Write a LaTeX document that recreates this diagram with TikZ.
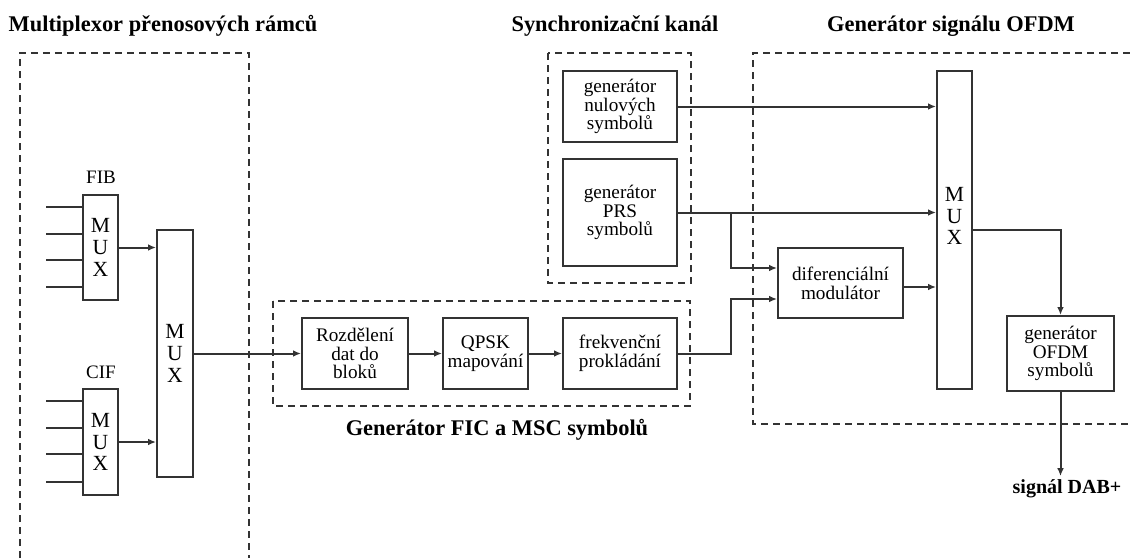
\documentclass[tikz,border=0pt]{standalone}
\usepackage{fontspec}
\setmainfont{Liberation Serif}
\usetikzlibrary{arrows.meta}

\begin{document}
\begin{tikzpicture}[x=0.5pt,y=-0.5pt,line width=1pt,
    >={Latex[length=4pt,width=3.4pt]},
    blok/.style={draw=black!80,align=center,inner sep=0pt,
      font=\fontsize{9.6}{9.4}\selectfont},
    mux/.style={draw=black!80,align=center,inner sep=0pt,minimum width=17.5pt,
      font=\fontsize{10.8}{10.8}\selectfont},
    titul/.style={anchor=base,font=\fontsize{11.2}{13}\selectfont\bfseries},
    ramec/.style={draw=black!80,line width=0.9pt,dash pattern=on 3.6pt off 2.4pt}]

  \useasboundingbox (0,0) rectangle (1130,558);

  \draw[ramec] (20,558) -- (20,53) -- (249,53) -- (249,558);
  \draw[ramec] (273,301) rectangle (690,406);
  \draw[ramec] (548,53) rectangle (691,283);
  \draw[ramec] (1130,53) -- (753,53) -- (753,424) -- (1130,424);

  \node[titul] (t1) at (163,31)  {Multiplexor přenosových rámců};
  \node[titul] (t2) at (615,31)  {Synchronizační kanál};
  \node[titul] (t3) at (951,31)  {Generátor signálu OFDM};
  \node[titul] (t4) at (497,435) {Generátor FIC a MSC symbolů};

  \begin{scope}[every node/.style={mux}]
    \node (fib)  at (100.5,247.5) [minimum height=52.5pt] {M\\U\\X};
    \node (cif)  at (100.5,442)   [minimum height=53pt]   {M\\U\\X};
    \node (mux)  at (175,353.5)   [minimum height=123.5pt,minimum width=18pt] {M\\U\\X};
    \node (rmux) at (954.5,230)   [minimum height=159pt,
      label={[mux,draw=none,yshift=7pt]center:M\\U\\X}] {};
  \end{scope}

  \begin{scope}[every node/.style={anchor=base,font=\fontsize{9.5}{11}\selectfont}]
    \node (lfib) at (101,183) {FIB};
    \node (lcif) at (101,378) {CIF};
  \end{scope}

  \begin{scope}[every node/.style={blok}]
    \node (rozd) at (355,353.5)    [minimum width=53pt,minimum height=35.5pt] {Rozdělení\\dat do\\bloků};
    \node (qpsk) at (485.5,353.5)  [minimum width=42.5pt,minimum height=35.5pt] {QPSK\\mapování};
    \node (frek) at (620,353.5)    [minimum width=57pt,minimum height=35.5pt] {frekvenční\\prokládání};
    \node (nul)  at (620,106.5)    [minimum width=57pt,minimum height=35.5pt] {generátor\\nulových\\symbolů};
    \node (prs)  at (620,212.5)    [minimum width=57pt,minimum height=53.5pt] {generátor\\PRS\\symbolů};
    \node (dif)  at (840.5,283)    [minimum width=62.5pt,minimum height=35pt] {diferenciální\\modulátor};
    \node (ofdm) at (1060.5,353.5) [minimum width=53.5pt,minimum height=37.5pt] {generátor\\OFDM\\symbolů};
  \end{scope}

  \node[anchor=base,inner sep=1pt,font=\fontsize{10}{12}\selectfont\bfseries] (dab) at (1067,493) {signál DAB+};

  \begin{scope}[draw=black!80]
    \foreach \y/\n in {207/a,234/b,260/c,287/d} {
      \coordinate (f\n) at (46,\y);
      \draw (f\n) -- (f\n -| fib.west);
    }
    \foreach \y/\n in {401/a,428/b,454/c,482/d} {
      \coordinate (c\n) at (46,\y);
      \draw (c\n) -- (c\n -| cif.west);
    }
    \coordinate (split) at (731,212.5);

    \draw[->] (fib.east) -- (fib.east -| mux.west);
    \draw[->] (cif.east) -- (cif.east -| mux.west);
    \draw[->] (mux.east) -- (rozd.west);
    \draw[->] (rozd) -- (qpsk);
    \draw[->] (qpsk) -- (frek);
    \draw[->] (frek.east) -- (frek.east -| split) |- ([yshift=-8pt]dif.west);
    \draw[->] (nul.east) -- (nul.east -| rmux.west);
    \draw[->] (prs.east) -- (prs.east -| rmux.west);
    \draw[->] (split) |- ([yshift=7.5pt]dif.west);
    \draw[->] ([yshift=-2pt]dif.east) -- ([yshift=-2pt]dif.east -| rmux.west);
    \draw[->] (rmux.east) -| (ofdm.north);
    \draw[->] (ofdm.south) -- (ofdm.south |- dab.north);
  \end{scope}

\end{tikzpicture}
\end{document}
